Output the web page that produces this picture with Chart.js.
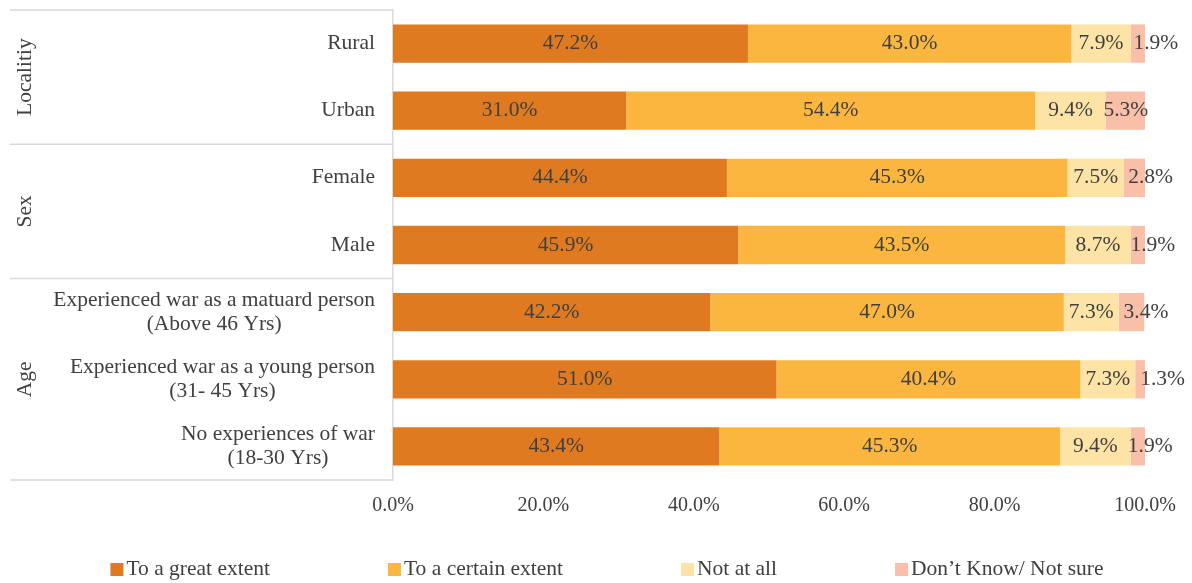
<!DOCTYPE html>
<html><head><meta charset="utf-8">
<script src="https://cdn.jsdelivr.net/npm/chart.js@4.4.1/dist/chart.umd.min.js"></script>
<style>html,body{margin:0;padding:0;background:#fff}#wrap{width:1192px;height:583px;position:relative}</style>
</head><body><div id="wrap"><canvas id="c"></canvas></div>
<script>
// ---- data ----
const categories = [
  'Rural',
  'Urban',
  'Female',
  'Male',
  ['Experienced war as a matuard person', '(Above 46 Yrs)'],
  ['Experienced war as a young person', '(31- 45 Yrs)'],
  ['No experiences of war', '(18-30 Yrs)']
];
const groupNames = ['Localitiy', 'Sex', 'Age'];
const groupSizes = [2, 2, 3];
const seriesNames = ['To a great extent', 'To a certain extent', 'Not at all', 'Don\u2019t Know/ Not sure'];
const greatExtent   = [47.2, 31.0, 44.4, 45.9, 42.2, 51.0, 43.4];
const certainExtent = [43.0, 54.4, 45.3, 43.5, 47.0, 40.4, 45.3];
const notAtAll      = [7.9, 9.4, 7.5, 8.7, 7.3, 7.3, 9.4];
const dontKnow      = [1.9, 5.3, 2.8, 1.9, 3.4, 1.3, 1.9];
const xTickValues   = [0, 20, 40, 60, 80, 100];

// ---- style ----
const FONT = "'Liberation Serif', 'Times New Roman', serif";
const FS = 21.5;
const TICK_FS = 20;
const TEXT = '#404040';
const LINE = '#D9D9D9';
const COLORS = ['#E07A21', '#FBB640', '#FDE3A5', '#F9BFA8'];

const seriesValues = [greatExtent, certainExtent, notAtAll, dontKnow];

const decorPlugin = {
  id: 'decor',
  afterDraw(chart) {
    const ctx = chart.ctx, y = chart.scales.y, area = chart.chartArea;
    ctx.save();
    ctx.font = FS + 'px ' + FONT;
    ctx.fillStyle = TEXT;
    ctx.textBaseline = 'middle';
    // category labels (lines centred within a right-aligned block)
    categories.forEach((lab, i) => {
      const lines = Array.isArray(lab) ? lab : [lab];
      const w = Math.max(...lines.map(l => ctx.measureText(l).width));
      const cx = area.left - 18 - w / 2;
      const yc = y.getPixelForValue(i);
      ctx.textAlign = 'center';
      lines.forEach((l, k) => ctx.fillText(l, cx, yc + (k - (lines.length - 1) / 2) * 24));
    });
    // group separators and labels
    ctx.strokeStyle = LINE;
    ctx.lineWidth = 1.5;
    let idx = 0;
    const edge = v => y.getPixelForValue(v);
    ctx.beginPath();
    ctx.moveTo(10, edge(-0.5)); ctx.lineTo(area.left, edge(-0.5));
    groupSizes.forEach((n, g) => {
      const top = edge(idx - 0.5);
      const bot = edge(idx + n - 0.5);
      ctx.moveTo(10, bot); ctx.lineTo(area.left, bot);
      ctx.save();
      ctx.translate(25, (top + bot) / 2);
      ctx.rotate(-Math.PI / 2);
      ctx.textAlign = 'center';
      ctx.fillText(groupNames[g], 0, 0);
      ctx.restore();
      idx += n;
    });
    ctx.stroke();
    // legend
    const items = chart.data.datasets.map(d => ({ text: d.label, color: d.backgroundColor }));
    const box = 13, gapBox = 3, gapItem = 118;
    const widths = items.map(it => box + gapBox + ctx.measureText(it.text).width);
    const total = widths.reduce((a, b) => a + b, 0) + gapItem * (items.length - 1);
    let x = (chart.width - total) / 2 + 11;
    const ly = 569.5;
    ctx.textAlign = 'left';
    items.forEach((it, i) => {
      ctx.fillStyle = it.color;
      ctx.fillRect(x, ly - box / 2, box, box);
      ctx.fillStyle = TEXT;
      ctx.fillText(it.text, x + box + gapBox, ly);
      x += widths[i] + gapItem;
    });
    ctx.restore();
  },
  afterDatasetsDraw(chart) {
    const ctx = chart.ctx;
    ctx.save();
    ctx.font = FS + 'px ' + FONT;
    ctx.fillStyle = TEXT;
    ctx.textBaseline = 'middle';
    ctx.textAlign = 'left';
    const n = chart.data.labels.length;
    for (let i = 0; i < n; i++) {
      let prevRight = -Infinity;
      chart.data.datasets.forEach((ds, d) => {
        const el = chart.getDatasetMeta(d).data[i];
        if (!el) return;
        const txt = ds.data[i].toFixed(1) + '%';
        const w = ctx.measureText(txt).width;
        const c = (el.x + el.base) / 2;
        const left = Math.max(c - w / 2, prevRight + 10);
        ctx.fillText(txt, left, el.y);
        prevRight = left + w;
      });
    }
    ctx.restore();
  }
};

new Chart(document.getElementById('c'), {
  type: 'bar',
  data: {
    labels: categories,
    datasets: seriesValues.map((vals, i) => ({
      label: seriesNames[i],
      data: vals,
      backgroundColor: COLORS[i],
      borderWidth: 0,
      categoryPercentage: 1,
      barPercentage: 0.57
    }))
  },
  options: {
    indexAxis: 'y',
    responsive: true,
    maintainAspectRatio: false,
    animation: false,
    devicePixelRatio: 1,
    layout: { padding: { top: 10, right: 47, bottom: 0, left: 0 } },
    plugins: { legend: { display: false }, tooltip: { enabled: false } },
    scales: {
      x: {
        stacked: true,
        min: 0, max: 100,
        afterBuildTicks: s => { s.ticks = xTickValues.map(v => ({ value: v })); },
        afterFit: s => { s.height = 103; },
        grid: { display: false, drawTicks: false },
        border: { display: false },
        ticks: {
          padding: 14,
          color: TEXT,
          font: { family: FONT, size: TICK_FS },
          callback: v => Number(v).toFixed(1) + '%'
        }
      },
      y: {
        stacked: true,
        afterFit: s => { s.width = 393; },
        grid: { display: false, drawTicks: false },
        border: { display: true, color: LINE, width: 1.5 },
        ticks: { display: false }
      }
    }
  },
  plugins: [decorPlugin]
});
</script>
</body></html>
